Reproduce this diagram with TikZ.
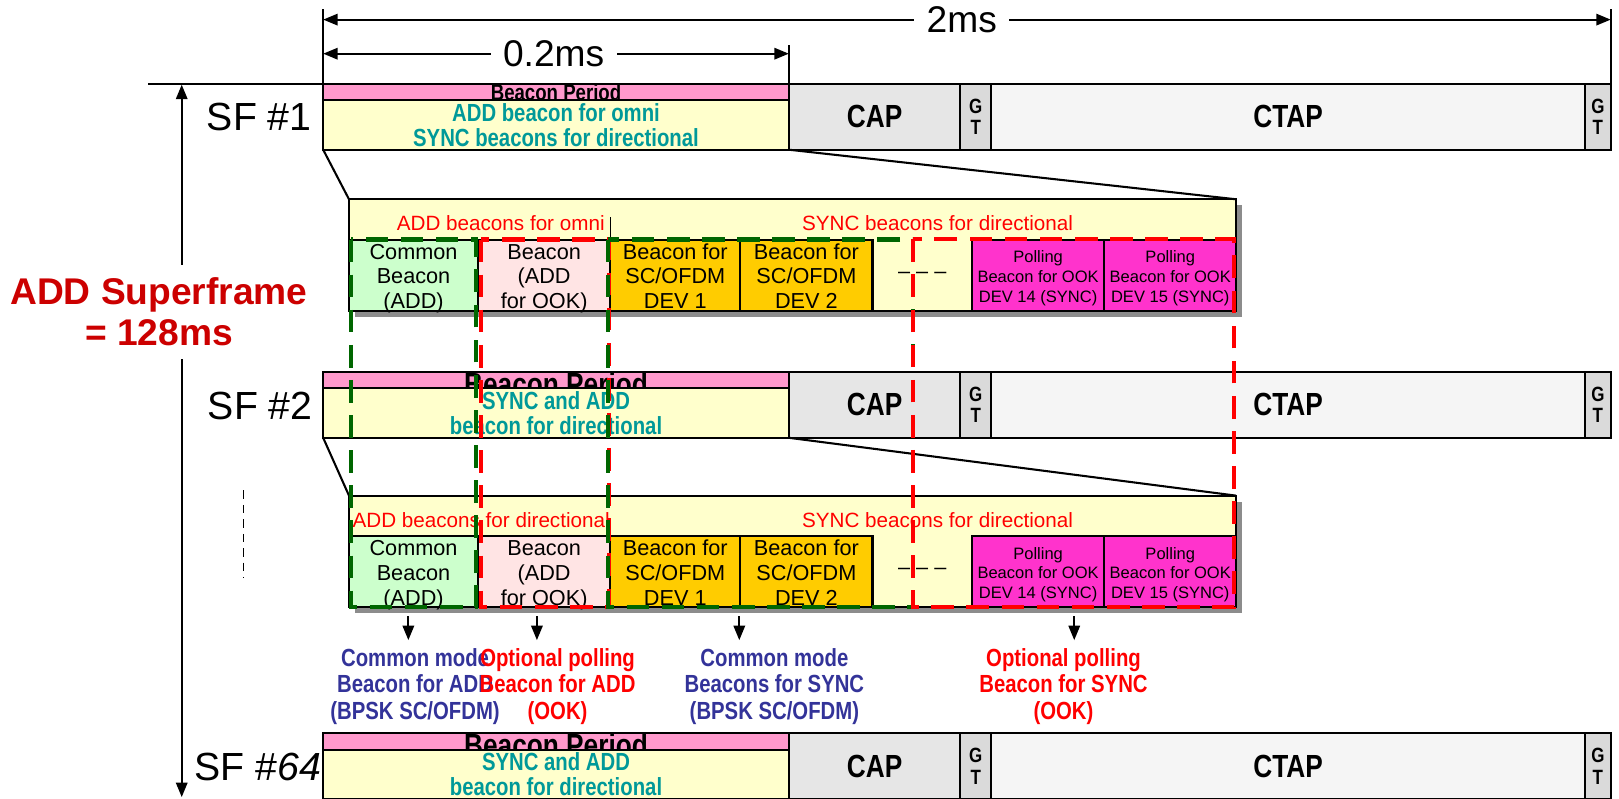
\documentclass[tikz,border=0pt]{standalone}
\usepackage{fontspec}
\setmainfont{Liberation Sans}
\newfontfamily\narrowsans[FakeStretch=0.82]{Liberation Sans}
\usetikzlibrary{arrows.meta,positioning,calc,shadows}

\definecolor{bppink}{HTML}{FF99CC}
\definecolor{bpyellow}{HTML}{FFFFCC}
\definecolor{bptext}{HTML}{009999}
\definecolor{capgray}{HTML}{E6E6E6}
\definecolor{gtgray}{HTML}{DADADA}
\definecolor{ctapgray}{HTML}{F5F5F5}
\definecolor{cgreen}{HTML}{CCFFCC}
\definecolor{cpink}{HTML}{FFE4E4}
\definecolor{corange}{HTML}{FFCC00}
\definecolor{cmagenta}{HTML}{FF33CC}
\definecolor{ttlred}{HTML}{CC0000}
\definecolor{lblblue}{HTML}{333399}
\definecolor{dkgreen}{HTML}{006600}

\begin{document}
\begin{tikzpicture}[
    x=1pt, y=-1pt,
    node distance=0pt,
    >={Triangle[length=14pt,width=11pt]},
    box/.style={draw, line width=2pt, inner sep=0pt, outer sep=0pt,
      anchor=north west, align=center},
    bpstripe/.style={box, fill=bppink, minimum width=451pt, minimum height=16pt},
    bpbody/.style={box, fill=bpyellow, minimum width=451pt, minimum height=48pt,
      text=bptext, font=\narrowsans\bfseries\fontsize{24}{24}\selectfont},
    bplabel/.style={inner sep=0pt, font=\narrowsans\bfseries\fontsize{22}{24}\selectfont},
    capbox/.style={box, fill=capgray, minimum width=166pt, minimum height=64pt,
      font=\narrowsans\bfseries\fontsize{31}{34}\selectfont},
    gtbox/.style={box, fill=gtgray, minimum width=30pt, minimum height=64pt,
      font=\narrowsans\bfseries\fontsize{20}{21}\selectfont},
    ctapbox/.style={capbox, fill=ctapgray, minimum width=575pt},
    sflabel/.style={anchor=east, inner sep=0pt, font=\fontsize{38}{44}\selectfont},
    dimlbl/.style={fill=white, inner xsep=12pt, inner ysep=2pt,
      font=\fontsize{36}{40}\selectfont},
    title/.style={fill=white, text=ttlred, align=center, inner xsep=2pt, inner ysep=12pt,
      font=\bfseries\fontsize{36}{40}\selectfont},
    blk/.style={box, fill=bpyellow, minimum width=859pt, minimum height=108pt,
      drop shadow={shadow xshift=6pt, shadow yshift=-6pt, fill=black!45, opacity=1}},
    blkhead/.style={text=red, inner sep=0pt, font=\fontsize{20}{22}\selectfont},
    cell/.style={box, minimum height=69pt, font=\fontsize{21}{24}\selectfont,
      text height=67pt, text depth=2pt},
    gapcell/.style={inner sep=0pt, minimum width=96pt, minimum height=69pt,
      font=\fontsize{21}{24}\selectfont},
    pollcell/.style={cell, fill=cmagenta, minimum width=128pt,
      font=\fontsize{16}{19}\selectfont, text height=60.5pt, text depth=8.5pt},
    lbl/.style={anchor=north, align=center, inner sep=0pt,
      font=\narrowsans\bfseries\fontsize{24}{25.5}\selectfont},
    gdash/.style={draw=dkgreen, line width=4pt, dash pattern=on 22pt off 12pt},
    rdash/.style={gdash, draw=red}
  ]
  \useasboundingbox (0,0) rectangle (1568,773);
  \clip (0,0) rectangle (1568,773);

  % superframe rows
  \foreach \r/\yy in {1/81,2/360,64/710}{
    \node[capbox] (cap\r) at (764,\yy) {CAP};
    \node[gtbox, right=of cap\r] (gta\r) {G\\T};
    \node[ctapbox, right=of gta\r] (ctap\r) {CTAP};
    \node[gtbox, minimum width=25pt, right=of ctap\r] (gtb\r) {G\\T};
  }

  \node[bpstripe] (bp1) at (313,81) {};
  \node[bplabel] (bpt1) at (bp1.center) {Beacon Period};
  \node[bpbody] (bb1) at (313,97) {ADD beacon for omni\\SYNC beacons for directional};

  \node[bpstripe] (bp2) at (313,360) {};
  \node[bplabel, font=\narrowsans\bfseries\fontsize{31}{34}\selectfont, yshift=-4pt] (bpt2) at (bp2.center) {Beacon Period};
  \node[bpbody] (bb2) at (313,376) {SYNC and ADD\\beacon for directional};

  \node[bpstripe] (bp64) at (313,710) {};
  \node[bplabel, font=\narrowsans\bfseries\fontsize{31}{34}\selectfont, yshift=-4pt] (bpt64) at (bp64.center) {Beacon Period};
  \node[bpbody] (bb64) at (313,726) {SYNC and ADD\\beacon for directional};

  \node[sflabel] (sf1) at (302,113) {SF \#1};
  \node[sflabel] (sf2) at (303,393) {SF \#2};
  \node[sflabel] (sf64) at (311,743) {SF \#\textit{64}};

  % time scale
  \draw[line width=2pt] (bp1.north west) -- ++(-170,0);
  \draw[line width=1.6pt] (bp1.north west) -- ++(0,-72);
  \draw[line width=1.6pt] (gtb1.north east) -- ++(0,-72);
  \draw[line width=1.6pt] (bp1.north east) -- ++(0,-37);
  \draw[<->, line width=2pt] ($(bp1.north west)+(0,-62)$) -- ($(gtb1.north east)+(0,-62)$)
    node[dimlbl, pos=0.496] (d2) {2ms};
  \draw[<->, line width=2pt] ($(bp1.north west)+(0,-29)$) -- ($(bp1.north east)+(0,-29)$)
    node[dimlbl, pos=0.495] (d02) {0.2ms};

  % superframe length
  \coordinate (sftop) at (176,82);
  \coordinate (sfbot) at (176,772);
  \draw[<->, line width=2pt] (sftop) -- (sfbot);
  \node[title] (ttl) at (154,302) {ADD Superframe\\= 128ms};
  \draw[line width=1.5pt, dash pattern=on 8pt off 6pt] (236,475) -- (236,560);

  % beacon period of SF #1
  \node[blk] (blk1) at (338,193) {};
  \node[blkhead] (hl1) at (485,216) {ADD beacons for omni};
  \node[blkhead] (hr1) at (908,216) {SYNC beacons for directional};
  \node[cell, fill=cgreen, minimum width=125pt] (cb1) at (338,232) {Common\\Beacon\\(ADD)};
  \node[cell, fill=cpink, minimum width=128pt, right=of cb1] (ob1) {Beacon\\(ADD\\for OOK)};
  \node[cell, fill=corange, minimum width=126pt, right=of ob1] (sa1) {Beacon for\\SC/OFDM\\DEV 1};
  \node[cell, fill=corange, minimum width=128pt, right=of sa1] (sb1) {Beacon for\\SC/OFDM\\DEV 2};
  \node[gapcell, right=of sb1] (gp1) {– – –};
  \node[pollcell, right=of gp1] (pa1) {Polling\\Beacon for OOK\\DEV 14 (SYNC)};
  \node[pollcell, right=of pa1] (pb1) {Polling\\Beacon for OOK\\DEV 15 (SYNC)};
  \draw[line width=1.2pt] (sa1.north west) -- ++(0,-22);

  % beacon period of SF #2
  \node[blk] (blk2) at (338,480) {};
  \node[blkhead] (hl2) at (466,504) {ADD beacons for directional};
  \node[blkhead] (hr2) at (908,504) {SYNC beacons for directional};
  \node[cell, fill=cgreen, minimum width=125pt] (cb2) at (338,519) {Common\\Beacon\\(ADD)};
  \node[cell, fill=cpink, minimum width=128pt, right=of cb2] (ob2) {Beacon\\(ADD\\for OOK)};
  \node[cell, fill=corange, minimum width=126pt, right=of ob2] (sa2) {Beacon for\\SC/OFDM\\DEV 1};
  \node[cell, fill=corange, minimum width=128pt, right=of sa2] (sb2) {Beacon for\\SC/OFDM\\DEV 2};
  \node[gapcell, right=of sb2] (gp2) {– – –};
  \node[pollcell, right=of gp2] (pa2) {Polling\\Beacon for OOK\\DEV 14 (SYNC)};
  \node[pollcell, right=of pa2] (pb2) {Polling\\Beacon for OOK\\DEV 15 (SYNC)};

  % zoom lines
  \draw[line width=2pt] (bb1.south west) -- (blk1.north west);
  \draw[line width=2pt] (bb1.south east) -- (blk1.north east);
  \draw[line width=2pt] (bb2.south west) -- (blk2.north west);
  \draw[line width=2pt] (bb2.south east) -- (blk2.north east);

  % beacon groups
  \draw[gdash] ($(cb1.north west)+(2,0)$) rectangle ($(cb2.south east)+(-2,0)$);
  \draw[rdash] ($(ob1.north west)+(3,0)$) rectangle ($(ob2.south east)+(-1,0)$);
  \draw[gdash] ($(sa1.north west)+(-2,0)$) rectangle ($(gp2.south)+(-9,0)$);
  \draw[rdash] ($(gp1.north)+(-9,0)$) rectangle ($(pb2.south east)+(-2,0)$);

  % beacon types
  \node[lbl, text=lblblue] (l1) at (402,628) {Common mode\\Beacon for ADD\\(BPSK SC/OFDM)};
  \node[lbl, text=red] (l2) at (540,628) {Optional polling\\Beacon for ADD\\(OOK)};
  \node[lbl, text=lblblue] (l3) at (750,628) {Common mode\\Beacons for SYNC\\(BPSK SC/OFDM)};
  \node[lbl, text=red] (l4) at (1030,628) {Optional polling\\Beacon for SYNC\\(OOK)};
  \draw[->, line width=2pt] ($(cb2.south)+(-5,9)$) -- ++(0,23);
  \draw[->, line width=2pt] ($(ob2.south)+(-7,9)$) -- ++(0,23);
  \draw[->, line width=2pt] ($(sb2.south west)+(-1,9)$) -- ++(0,23);
  \draw[->, line width=2pt] ($(pa2.south east)+(-29,9)$) -- ++(0,23);
\end{tikzpicture}
\end{document}
